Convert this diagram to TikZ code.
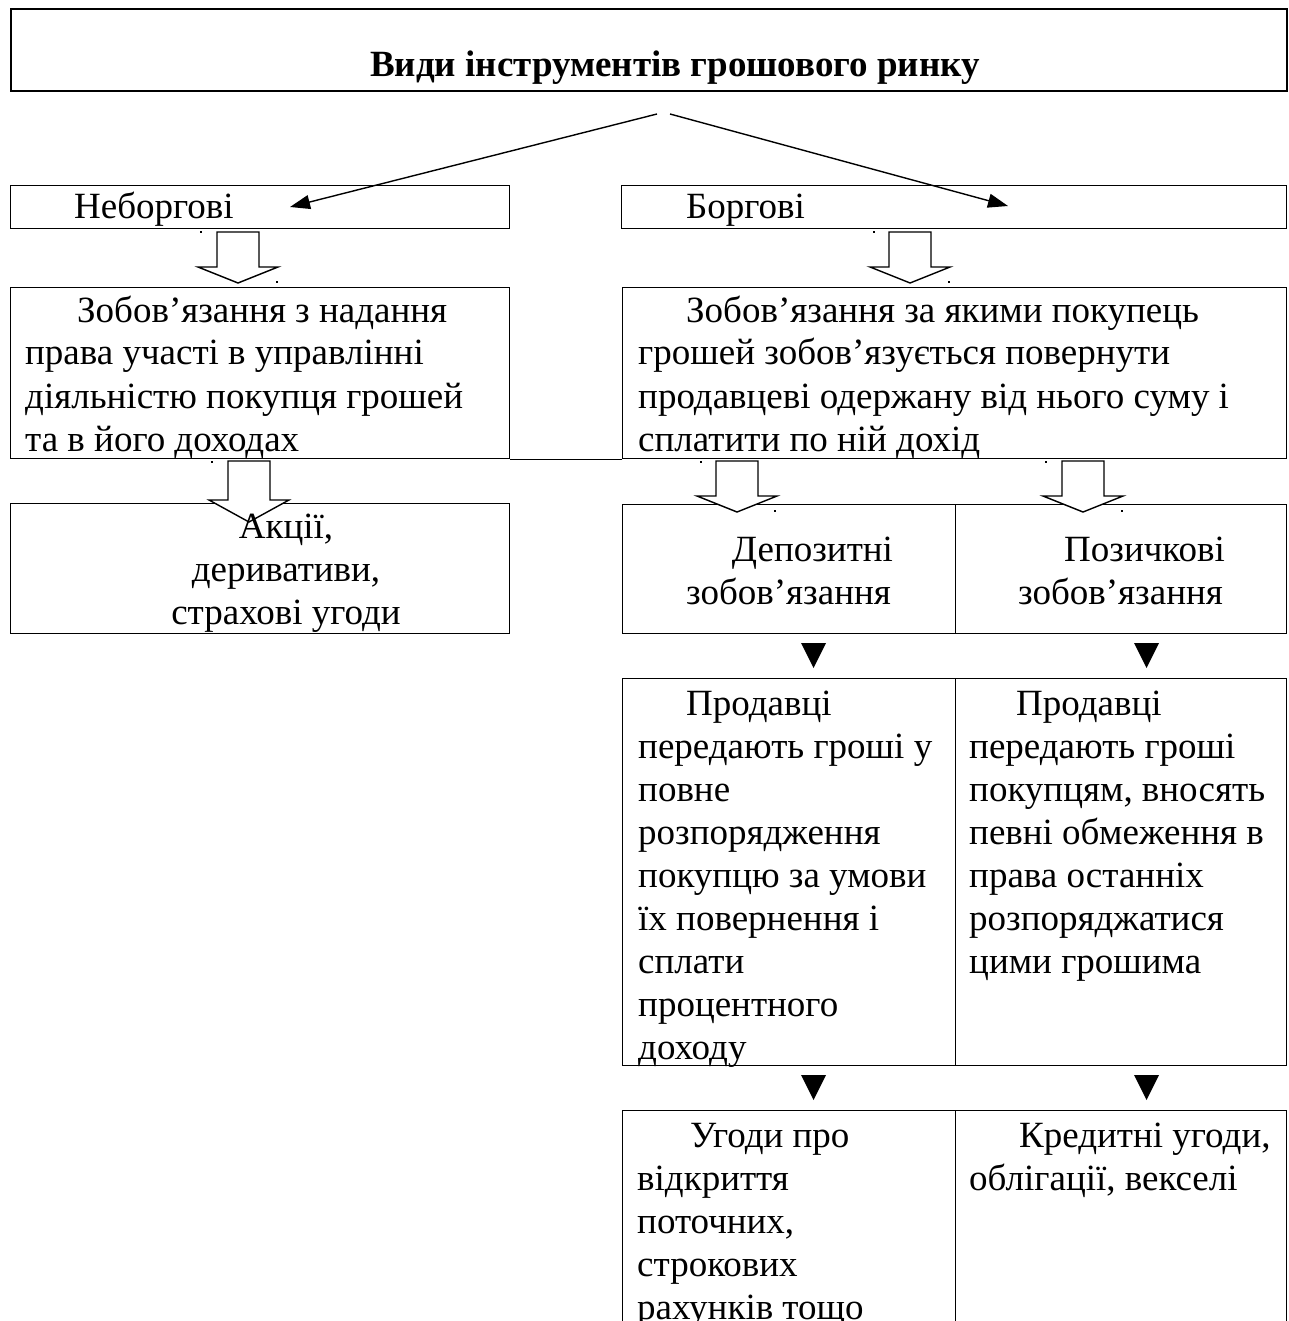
\documentclass[tikz,border=0pt]{standalone}
\usepackage{fontspec}
\setmainfont{Liberation Serif}
\usetikzlibrary{arrows.meta}

% downward hollow block arrow: centre x, top y, neck y, tip y
\newcommand\hollowdown[4]{%
  \draw[blockarrow] (#1-21,#2) -- (#1+21,#2) -- (#1+21,#3) -- (#1+40,#3)
    -- (#1,#4) -- (#1-40,#3) -- (#1-21,#3) -- cycle;}
% small filled marker triangle pointing down: centre x, top y
\newcommand\marktri[2]{%
  \fill (#1-12.5,#2) -- (#1+12.5,#2) -- (#1,#2+25) -- cycle;}
% tiny corner dot
\newcommand\cornerdot[2]{\fill (#1-1.2,#2-1.2) rectangle (#1+1.2,#2+1.2);}

\tikzset{
  cell/.style={draw, line width=1.3pt, inner sep=0pt, anchor=north west},
  txt/.style={inner sep=0pt, font=\fontsize{37}{43}\selectfont},
  blockarrow/.style={draw, fill=white, line width=1.4pt, line join=miter},
  link/.style={line width=1.4pt, -{Triangle[length=20pt,width=14pt]}},
}

\begin{document}
\begin{tikzpicture}[x=1pt, y=-1pt]
\useasboundingbox (0,0) rectangle (1288,1321);

% title
\node[draw, line width=2.2pt, inner sep=0pt, anchor=north west,
      minimum width=1276pt, minimum height=82pt] (top) at (10,8) {};
\node[inner sep=0pt, anchor=base, font=\bfseries\fontsize{37}{43}\selectfont]
  (title) at (675,77) {Види інструментів грошового ринку};

% first level
\node[cell, minimum width=499pt, minimum height=43pt] (neb) at (10,185) {};
\node[cell, minimum width=665pt, minimum height=43pt] (borg) at (621,185) {};
\node[txt, anchor=base west] (nebt) at (74,219) {Неборгові};
\node[txt, anchor=base west] (borgt) at (686,219) {Боргові};

\coordinate (fromL) at (657,114);
\coordinate (fromR) at (670,114);
\coordinate (toL) at (290,207);
\coordinate (toR) at (1008,206);
\draw[link] (fromL) -- (toL);
\draw[link] (fromR) -- (toR);

% second level
\node[cell, minimum width=499pt, minimum height=171pt] (ltext) at (10,287) {};
\node[cell, minimum width=664pt, minimum height=171pt] (rtext) at (622,287) {};
\draw[line width=1.3pt] (ltext.south east) -- (rtext.south west);

\node[txt, anchor=base west] (ltextt) at (25,322) {\parbox[t]{480pt}{\raggedright
  \hspace*{52pt}Зобов’язання з надання\\
  права участі в управлінні\\
  діяльністю покупця грошей\\
  та в його доходах}};
\node[txt, anchor=base west] (rtextt) at (638,322) {\parbox[t]{645pt}{\raggedright
  \hspace*{48pt}Зобов’язання за якими покупець\\
  грошей зобов’язується повернути\\
  продавцеві одержану від нього суму і\\
  сплатити по ній дохід}};

\hollowdown{238}{232}{267}{283}
\hollowdown{910}{232}{267}{283}
\cornerdot{201}{232}\cornerdot{277}{282}
\cornerdot{874}{232}\cornerdot{949}{282}

% third level
\node[cell, minimum width=499pt, minimum height=130pt] (akc) at (10,503) {};
\node[cell, minimum width=333pt, minimum height=129pt] (dep) at (622,504) {};
\node[cell, minimum width=331pt, minimum height=129pt] (poz) at (955,504) {};

\hollowdown{249}{461}{500}{522}
\hollowdown{737}{461}{496}{512}
\hollowdown{1083}{461}{496}{512}
\cornerdot{212}{462}
\cornerdot{701}{462}\cornerdot{775}{511}
\cornerdot{1046}{462}\cornerdot{1122}{511}

\node[txt, anchor=base] (akct) at (286,538) {\parbox[t]{400pt}{\centering
  Акції,\\деривативи,\\страхові угоди}};
\node[txt, anchor=base] (dept) at (788.5,561) {\parbox[t]{333pt}{\centering
  \hspace*{48pt}Депозитні\\зобов’язання}};
\node[txt, anchor=base] (pozt) at (1120.5,561) {\parbox[t]{331pt}{\centering
  \hspace*{48pt}Позичкові\\зобов’язання}};

\marktri{813.5}{643}
\marktri{1146.5}{643}

% fourth level
\node[cell, minimum width=333pt, minimum height=387pt] (prod1) at (622,678) {};
\node[cell, minimum width=331pt, minimum height=387pt] (prod2) at (955,678) {};
\node[txt, anchor=base west] (prod1t) at (638,715) {\parbox[t]{320pt}{\raggedright
  \hspace*{48pt}Продавці\\
  передають гроші у\\
  повне\\
  розпорядження\\
  покупцю за умови\\
  їх повернення і\\
  сплати\\
  процентного\\
  доходу}};
\node[txt, anchor=base west] (prod2t) at (969,715) {\parbox[t]{318pt}{\raggedright
  \hspace*{47pt}Продавці\\
  передають гроші\\
  покупцям, вносять\\
  певні обмеження в\\
  права останніх\\
  розпоряджатися\\
  цими грошима}};

\marktri{813.5}{1075}
\marktri{1146.5}{1075}

% fifth level
\node[cell, minimum width=333pt, minimum height=240pt] (ug) at (622,1110) {};
\node[cell, minimum width=331pt, minimum height=240pt] (kr) at (955,1110) {};
\node[txt, anchor=base west] (ugt) at (637,1147) {\parbox[t]{320pt}{\raggedright
  \hspace*{53pt}Угоди про\\
  відкриття\\
  поточних,\\
  строкових\\
  рахунків тощо}};
\node[txt, anchor=base west] (krt) at (969,1147) {\parbox[t]{318pt}{\raggedright
  \hspace*{50pt}Кредитні угоди,\\
  облігації, векселі}};
\end{tikzpicture}
\end{document}
